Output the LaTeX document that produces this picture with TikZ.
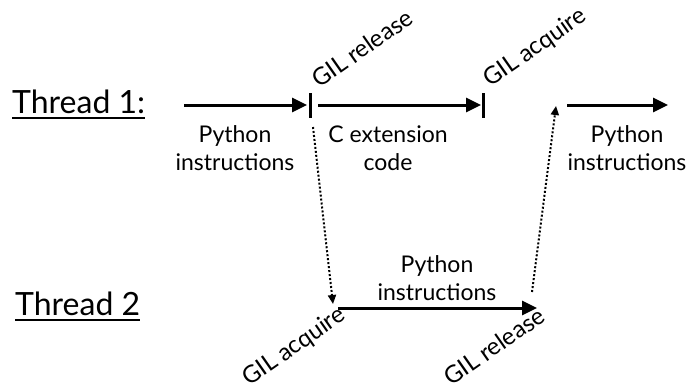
\documentclass[tikz,border=0pt]{standalone}
\usepackage{fontspec}
\setmainfont{Lato}
\usetikzlibrary{arrows.meta}
\begin{document}
\begin{tikzpicture}[x=1pt,y=-1pt,
  title/.style={font=\fontsize{32}{37}\selectfont, inner sep=0pt, anchor=base west},
  uline/.style={line width=2pt},
  lbl/.style={font=\fontsize{23}{28}\selectfont, align=center, inner sep=0pt},
  gil/.style={font=\fontsize{24}{28}\selectfont, inner sep=0pt, rotate=35, anchor=base west},
  flow/.style={line width=3pt, -{Triangle[length=15pt,width=14pt]}},
  barline/.style={line width=3pt},
  hop/.style={line width=2pt, dotted, -{Triangle[length=9pt,width=8pt]}}]
\useasboundingbox (0,0) rectangle (688,391);
% titles
\node[title] (th1) at (12,113) {Thread 1:};
\draw[uline] ([yshift=-5pt]th1.base west) -- ([yshift=-5pt]th1.base east);
\node[title] (th2) at (15,315) {Thread 2};
\draw[uline] ([yshift=-5pt]th2.base west) -- ([yshift=-5pt]th2.base east);
% thread 1 coordinates
\coordinate (a1s) at (184,105);
\coordinate (a1e) at (307,105);
\coordinate (bar1t) at (310,93);
\coordinate (bar1b) at (310,118);
\coordinate (a2s) at (318,105);
\coordinate (a2e) at (481,105);
\coordinate (bar2t) at (483,93);
\coordinate (bar2b) at (483,118);
\coordinate (a3s) at (567,105);
\coordinate (a3e) at (668,105);
\draw[flow] (a1s) -- (a1e);
\draw[barline] (bar1t) -- (bar1b);
\draw[flow] (a2s) -- (a2e);
\draw[barline] (bar2t) -- (bar2b);
\draw[flow] (a3s) -- (a3e);
% thread 1 labels
\node[lbl] (py1) at (235,148) {Python\\instructions};
\node[lbl] (cext) at (388,148) {C extension\\code};
\node[lbl] (py3) at (627,148) {Python\\instructions};
\node[gil] (rel1) at (319,89) {GIL release};
\node[gil] (acq1) at (490,88) {GIL acquire};
% thread 2
\coordinate (b1s) at (338,308);
\coordinate (b1e) at (537,308);
\draw[flow] (b1s) -- (b1e);
\node[lbl] (py2) at (437,278) {Python\\instructions};
\node[gil] (acq2) at (249,387) {GIL acquire};
\node[gil] (rel2) at (451,387) {GIL release};
% hand-offs
\coordinate (h1s) at (313,127);
\coordinate (h1e) at (333,304);
\coordinate (h2s) at (532,292);
\coordinate (h2e) at (556,106);
\draw[hop] (h1s) -- (h1e);
\draw[hop] (h2s) -- (h2e);
\end{tikzpicture}
\end{document}
